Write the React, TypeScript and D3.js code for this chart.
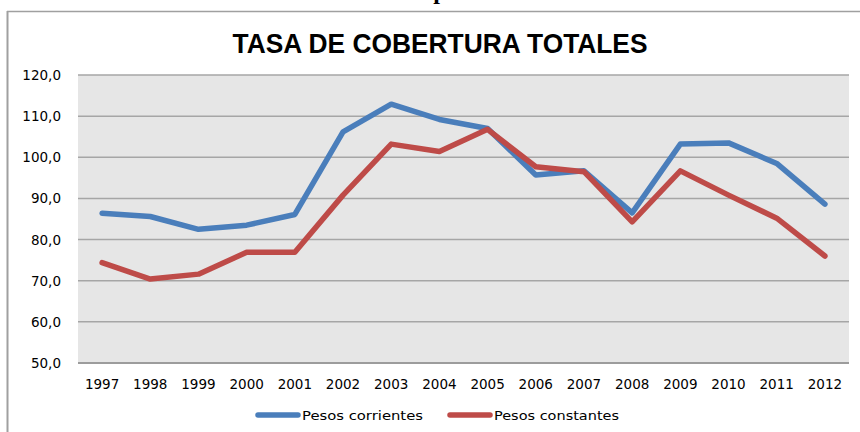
import * as d3 from "d3";

const years = ["1997", "1998", "1999", "2000", "2001", "2002", "2003", "2004", "2005", "2006", "2007", "2008", "2009", "2010", "2011", "2012"];
const corrientes = [86.4, 85.6, 82.5, 83.5, 86.1, 106.2, 112.9, 109.2, 107.0, 95.7, 96.7, 86.5, 103.2, 103.5, 98.5, 88.6];
const constantes = [74.4, 70.4, 71.6, 76.9, 76.9, 90.8, 103.2, 101.4, 106.8, 97.7, 96.5, 84.3, 96.7, 90.8, 85.2, 76.0];
const yTicks = [50, 60, 70, 80, 90, 100, 110, 120];

const W = 860;
const H = 432;
const plot = { left: 78, right: 849, top: 75, bottom: 363 };

const App = () => {
  const x = d3.scaleBand().domain(years).range([plot.left, plot.right]);
  const y = d3.scaleLinear().domain([50, 120]).range([plot.bottom, plot.top]);
  const cx = (d: string) => (x(d) as number) + x.bandwidth() / 2;

  const line = d3
    .line<number>()
    .x((_, i) => cx(years[i]))
    .y((v) => y(v));

  const series = [
    { name: "Pesos corrientes", values: corrientes, color: "#4a7ebb", lx: 258, tw: 121 },
    { name: "Pesos constantes", values: constantes, color: "#be4b48", lx: 450, tw: 125 },
  ];

  return (
    <svg width={W} height={H} style={{ position: "absolute", left: 0, top: 0, background: "#fff" }}>
      {/* cut-off heading above the chart, only its descender shows */}
      <text x={440} y={-1} textAnchor="middle" fontFamily="Liberation Serif" fontWeight="bold" fontSize={24} fill="#000">
        p
      </text>

      {/* outer frame */}
      <line x1={7} x2={W} y1={11.5} y2={11.5} stroke="#a0a0a0" strokeWidth={1.5} />
      <line x1={7.5} x2={7.5} y1={11} y2={H} stroke="#a0a0a0" strokeWidth={2} />

      <text
        x={440}
        y={53}
        textAnchor="middle"
        fontFamily="Liberation Sans"
        fontWeight="bold"
        fontSize={28}
        textLength={415}
        lengthAdjust="spacingAndGlyphs"
        fill="#000"
      >
        TASA DE COBERTURA TOTALES
      </text>

      <rect x={plot.left} y={plot.top} width={plot.right - plot.left} height={plot.bottom - plot.top} fill="#e6e6e6" />

      {yTicks.map((t) => (
        <g key={t}>
          <line
            x1={plot.left}
            x2={plot.right}
            y1={y(t)}
            y2={y(t)}
            stroke={t === 50 ? "#9c9c9c" : "#a6a6a6"}
            strokeWidth={t === 50 ? 2 : 1.5}
          />
          <text x={61} y={y(t) + 5} textAnchor="end" fontFamily="DejaVu Sans" fontSize={13.5} fill="#000">
            {t.toFixed(1).replace(".", ",")}
          </text>
        </g>
      ))}

      {years.map((yr) => (
        <text key={yr} x={cx(yr)} y={389} textAnchor="middle" fontFamily="DejaVu Sans" fontSize={13.5} fill="#000">
          {yr}
        </text>
      ))}

      {series.map((s) => (
        <path
          key={s.name}
          d={line(s.values) as string}
          fill="none"
          stroke={s.color}
          strokeWidth={5.5}
          strokeLinejoin="round"
          strokeLinecap="round"
        />
      ))}

      {series.map((s) => (
        <g key={s.name}>
          <line x1={s.lx} x2={s.lx + 40} y1={415} y2={415} stroke={s.color} strokeWidth={5.5} strokeLinecap="round" />
          <text
            x={s.lx + 44}
            y={420}
            fontFamily="DejaVu Sans"
            fontSize={13}
            textLength={s.tw}
            lengthAdjust="spacingAndGlyphs"
            fill="#000"
          >
            {s.name}
          </text>
        </g>
      ))}
    </svg>
  );
};

export default App;
